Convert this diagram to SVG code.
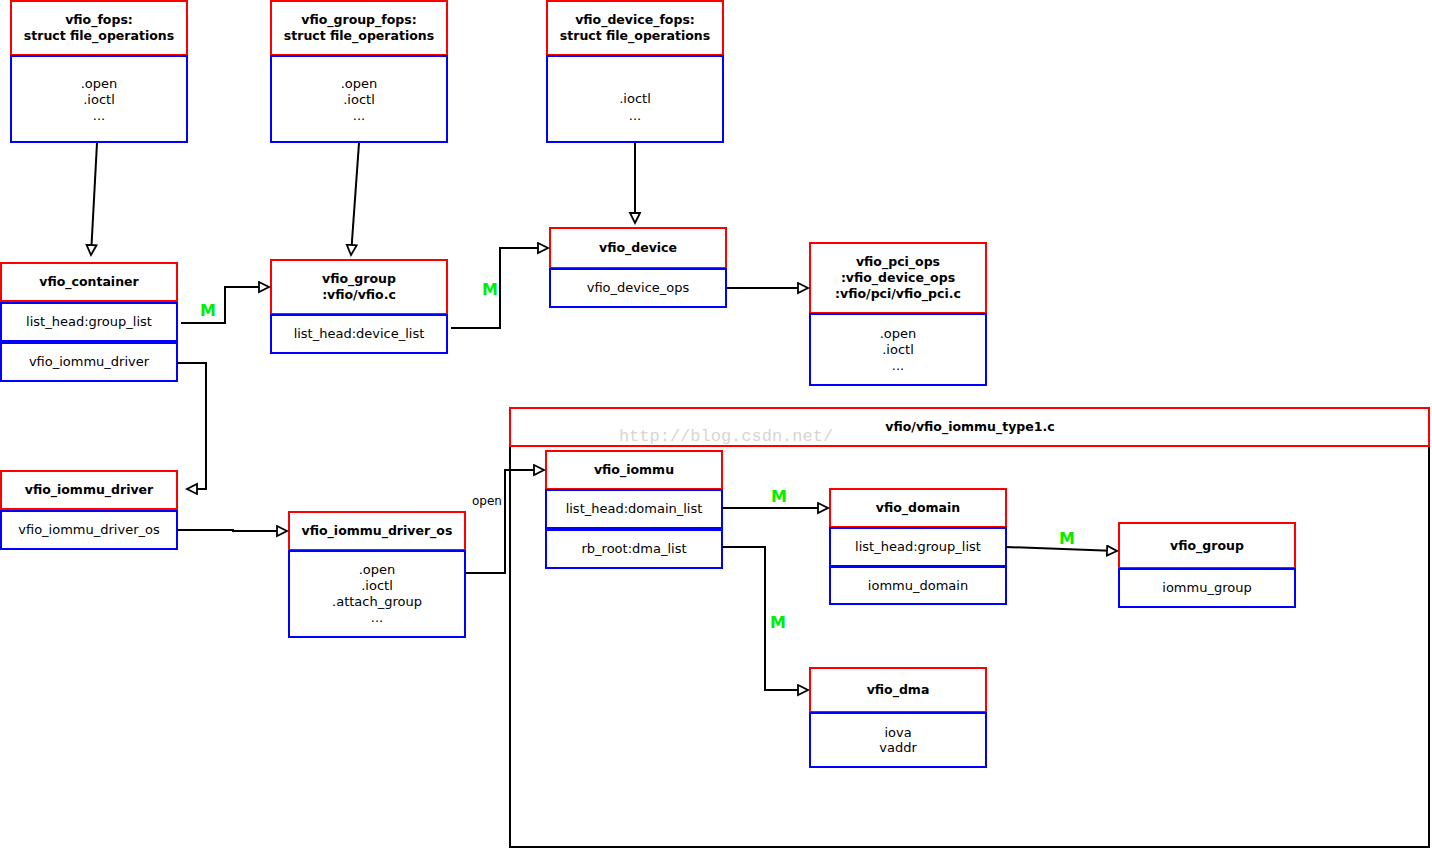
<svg xmlns="http://www.w3.org/2000/svg" width="1432" height="848" viewBox="0 0 1432 848">
<style>
.h{fill:#fff;stroke:#ff0000;stroke-width:2}
.b{fill:#fff;stroke:#0000ff;stroke-width:2}
.t{font-family:"DejaVu Sans",sans-serif;font-size:13px;fill:#000;text-anchor:middle}
.tb{font-family:"DejaVu Sans",sans-serif;font-size:12.5px;font-weight:bold;fill:#000;text-anchor:middle}
.c{fill:none;stroke:#000;stroke-width:2}
.m{font-family:"DejaVu Sans",sans-serif;font-size:16px;font-weight:bold;fill:#00ee00;text-anchor:middle}
</style>
<defs>
<marker id="a" markerUnits="userSpaceOnUse" markerWidth="14" markerHeight="14" refX="11" refY="6" orient="auto">
<path d="M1,1 L11,6 L1,11 Z" fill="#fff" stroke="#000" stroke-width="1.8"/>
</marker>
</defs>
<rect width="1432" height="848" fill="#fff"/>

<g id="iommu_type1">
<rect x="510" y="446" width="919" height="401" fill="#fff" stroke="#000" stroke-width="2"/>
<rect class="h" x="510" y="408" width="919" height="38"/>
<text class="tb" x="970" y="431">vfio/vfio_iommu_type1.c</text>
<text x="726" y="441" font-family="'Liberation Mono',monospace" font-size="17" fill="#d9d5d1" text-anchor="middle">http://blog.csdn.net/</text>
</g>

<g id="vfio_fops">
<rect class="h" x="11" y="1" width="176" height="54"/>
<rect class="b" x="11" y="56" width="176" height="86"/>
<text class="tb" x="99" y="24">vfio_fops:</text>
<text class="tb" x="99" y="40">struct file_operations</text>
<text class="t" x="99" y="88">.open</text>
<text class="t" x="99" y="104">.ioctl</text>
<text class="t" x="99" y="120">...</text>
</g>

<g id="vfio_group_fops">
<rect class="h" x="271" y="1" width="176" height="54"/>
<rect class="b" x="271" y="56" width="176" height="86"/>
<text class="tb" x="359" y="24">vfio_group_fops:</text>
<text class="tb" x="359" y="40">struct file_operations</text>
<text class="t" x="359" y="88">.open</text>
<text class="t" x="359" y="104">.ioctl</text>
<text class="t" x="359" y="120">...</text>
</g>

<g id="vfio_device_fops">
<rect class="h" x="547" y="1" width="176" height="54"/>
<rect class="b" x="547" y="56" width="176" height="86"/>
<text class="tb" x="635" y="24">vfio_device_fops:</text>
<text class="tb" x="635" y="40">struct file_operations</text>
<text class="t" x="635" y="103">.ioctl</text>
<text class="t" x="635" y="120">...</text>
</g>

<g id="vfio_container">
<rect class="h" x="1" y="263" width="176" height="38"/>
<rect class="b" x="1" y="303" width="176" height="38"/>
<rect class="b" x="1" y="343" width="176" height="38"/>
<text class="tb" x="89" y="286">vfio_container</text>
<text class="t" x="89" y="326">list_head:group_list</text>
<text class="t" x="89" y="366">vfio_iommu_driver</text>
</g>

<g id="vfio_group">
<rect class="h" x="271" y="260" width="176" height="54"/>
<rect class="b" x="271" y="315" width="176" height="38"/>
<text class="tb" x="359" y="283">vfio_group</text>
<text class="tb" x="359" y="299">:vfio/vfio.c</text>
<text class="t" x="359" y="338">list_head:device_list</text>
</g>

<g id="vfio_device">
<rect class="h" x="550" y="228" width="176" height="40"/>
<rect class="b" x="550" y="269" width="176" height="38"/>
<text class="tb" x="638" y="252">vfio_device</text>
<text class="t" x="638" y="292">vfio_device_ops</text>
</g>

<g id="vfio_pci_ops">
<rect class="h" x="810" y="243" width="176" height="70"/>
<rect class="b" x="810" y="314" width="176" height="71"/>
<text class="tb" x="898" y="266">vfio_pci_ops</text>
<text class="tb" x="898" y="282">:vfio_device_ops</text>
<text class="tb" x="898" y="298">:vfio/pci/vfio_pci.c</text>
<text class="t" x="898" y="338">.open</text>
<text class="t" x="898" y="354">.ioctl</text>
<text class="t" x="898" y="370">...</text>
</g>

<g id="vfio_iommu_driver">
<rect class="h" x="1" y="471" width="176" height="38"/>
<rect class="b" x="1" y="511" width="176" height="38"/>
<text class="tb" x="89" y="494">vfio_iommu_driver</text>
<text class="t" x="89" y="534">vfio_iommu_driver_os</text>
</g>

<g id="vfio_iommu_driver_os">
<rect class="h" x="289" y="512" width="176" height="38"/>
<rect class="b" x="289" y="551" width="176" height="86"/>
<text class="tb" x="377" y="535">vfio_iommu_driver_os</text>
<text class="t" x="377" y="574">.open</text>
<text class="t" x="377" y="590">.ioctl</text>
<text class="t" x="377" y="606">.attach_group</text>
<text class="t" x="377" y="622">...</text>
</g>

<g id="vfio_iommu">
<rect class="h" x="546" y="451" width="176" height="38"/>
<rect class="b" x="546" y="490" width="176" height="38"/>
<rect class="b" x="546" y="530" width="176" height="38"/>
<text class="tb" x="634" y="474">vfio_iommu</text>
<text class="t" x="634" y="513">list_head:domain_list</text>
<text class="t" x="634" y="553">rb_root:dma_list</text>
</g>

<g id="vfio_domain">
<rect class="h" x="830" y="489" width="176" height="38"/>
<rect class="b" x="830" y="528" width="176" height="38"/>
<rect class="b" x="830" y="567" width="176" height="37"/>
<text class="tb" x="918" y="512">vfio_domain</text>
<text class="t" x="918" y="551">list_head:group_list</text>
<text class="t" x="918" y="590">iommu_domain</text>
</g>

<g id="vfio_group_r">
<rect class="h" x="1119" y="523" width="176" height="45"/>
<rect class="b" x="1119" y="569" width="176" height="38"/>
<text class="tb" x="1207" y="550">vfio_group</text>
<text class="t" x="1207" y="592">iommu_group</text>
</g>

<g id="vfio_dma">
<rect class="h" x="810" y="668" width="176" height="44"/>
<rect class="b" x="810" y="713" width="176" height="54"/>
<text class="tb" x="898" y="694">vfio_dma</text>
<text class="t" x="898" y="737">iova</text>
<text class="t" x="898" y="752">vaddr</text>
</g>

<g id="connectors">
<path class="c" d="M97,143 L91,255" marker-end="url(#a)"/>
<path class="c" d="M359,143 L351,255" marker-end="url(#a)"/>
<path class="c" d="M635,143 L635,223" marker-end="url(#a)"/>
<path class="c" d="M181,323 L225,323 L225,287 L269,287" marker-end="url(#a)"/>
<path class="c" d="M451,328 L500,328 L500,248 L548,248" marker-end="url(#a)"/>
<path class="c" d="M727,288 L808,288" marker-end="url(#a)"/>
<path class="c" d="M177,363 L206,363 L206,489 L187,489" marker-end="url(#a)"/>
<path class="c" d="M177,530 L233,530 L233,531 L287,531" marker-end="url(#a)"/>
<path class="c" d="M466,573 L505,573 L505,470 L544,470" marker-end="url(#a)"/>
<path class="c" d="M722,508 L828,508" marker-end="url(#a)"/>
<path class="c" d="M1006,547 L1117,551" marker-end="url(#a)"/>
<path class="c" d="M722,547 L765,547 L765,690 L808,690" marker-end="url(#a)"/>
<text class="m" x="208" y="316">M</text>
<text class="m" x="490" y="295">M</text>
<text class="m" x="779" y="502">M</text>
<text class="m" x="1067" y="544">M</text>
<text class="m" x="778" y="628">M</text>
<text x="487" y="505" font-family="'DejaVu Sans',sans-serif" font-size="12" text-anchor="middle">open</text>
</g>
</svg>
